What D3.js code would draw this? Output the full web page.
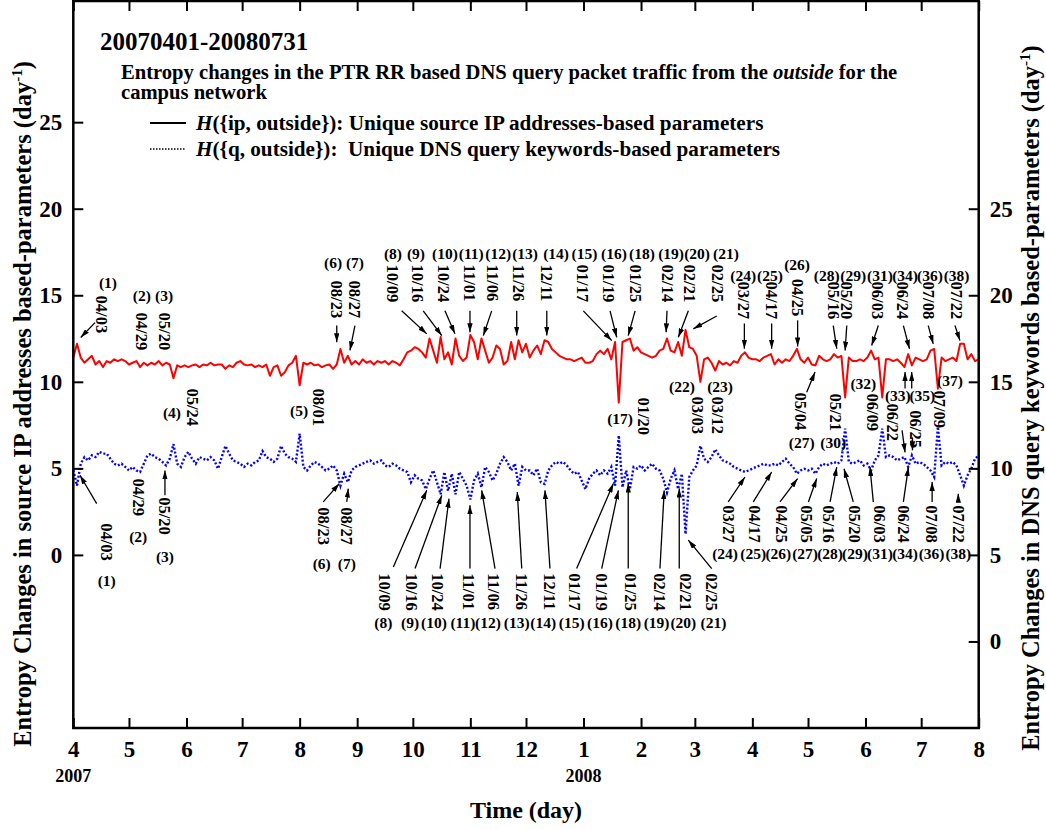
<!DOCTYPE html>
<html lang="en">
<head>
<meta charset="UTF-8">
<title>PTR RR entropy changes</title>
<script src="https://cdn.jsdelivr.net/npm/d3@7"></script>
<style>
body { margin: 0; background: #fff; }
text { font-family: "Liberation Serif", "Times New Roman", serif; font-weight: bold; fill: #000; }
</style>
</head>
<body>
<script>

var w = 1046, h = 830;
var plotLeft = 73.3, plotRight = 978.7, plotTop = 1, plotBottom = 728;

// one value every 2 days, starting 2007-04-01
var startDate = Date.UTC(2007, 3, 1);
var stepDays = 2;

// H({ip, outside}), left axis
var ipValues = [
 11.4, 12.2, 11.4, 11.1, 11.3, 11.5, 11.0, 11.2, 10.85, 11.2,
 11.1, 11.3, 11.2, 11.3, 11.2, 11.0, 11.1, 11.2, 10.85, 11.1,
 10.95, 11.1, 11.0, 11.2, 10.95, 11.1, 11.0, 10.2, 10.95, 10.85,
 10.95, 10.85, 10.95, 11.0, 10.85, 11.0, 10.95, 11.1, 10.95, 11.0,
 11.0, 10.75, 10.95, 10.85, 11.1, 11.2, 11.0, 10.95, 11.0, 10.85,
 10.95, 10.85, 11.0, 10.35, 10.85, 10.95, 10.35, 10.55, 10.95, 11.1,
 11.5, 9.8, 11.1, 11.0, 11.1, 10.95, 11.0, 10.85, 10.95, 11.0,
 10.75, 11.0, 11.9, 11.1, 11.5, 11.0, 11.2, 11.0, 11.3, 11.1,
 11.2, 11.0, 11.2, 11.1, 11.2, 11.0, 11.2, 11.1, 10.95, 11.3,
 11.7, 11.8, 12.0, 11.9, 11.7, 11.4, 12.5, 11.8, 11.1, 12.6,
 11.3, 11.7, 11.0, 12.5, 11.5, 11.2, 11.4, 12.7, 12.3, 11.3,
 12.5, 11.8, 11.1, 11.4, 12.1, 11.9, 11.0, 11.2, 12.3, 11.3,
 12.4, 11.7, 12.2, 11.4, 11.8, 12.1, 11.6, 12.4, 12.3, 11.9,
 11.7, 11.5, 11.4, 11.3, 11.3, 11.2, 11.3, 11.4, 11.1, 11.1,
 11.2, 11.6, 11.8, 11.6, 11.9, 11.3, 12.3, 8.8, 12.3, 12.4,
 12.5, 11.8, 12.0, 11.7, 11.6, 11.5, 11.4, 11.5, 11.8, 11.9,
 12.5, 11.8, 11.7, 12.3, 11.5, 13.0, 12.0, 11.9, 11.5, 10.0,
 11.3, 11.4, 11.1, 10.65, 11.2, 11.0, 11.1, 10.95, 11.2, 11.1,
 11.5, 11.7, 11.4, 11.3, 11.3, 11.2, 11.4, 11.5, 11.6, 11.0,
 11.3, 11.1, 11.3, 11.2, 11.5, 11.9, 11.3, 11.1, 11.4, 11.0,
 10.95, 11.5, 11.3, 11.2, 11.3, 11.6, 11.4, 11.5, 9.1, 11.4,
 11.2, 11.2, 11.3, 11.2, 11.4, 11.8, 11.3, 11.4, 9.1, 11.3,
 11.3, 11.2, 11.3, 11.1, 10.85, 11.6, 10.95, 11.4, 11.3, 11.2,
 11.3, 11.8, 11.9, 9.6, 11.4, 11.2, 11.3, 11.4, 11.2, 12.2,
 12.2, 11.3, 11.6, 11.2, 11.3
];

// H({q, outside}), right axis
var qValues = [
 9.9, 9.0, 10.27, 10.65, 10.46, 10.75, 10.65, 10.95, 10.85, 10.85,
 10.56, 10.27, 10.17, 10.27, 10.08, 9.88, 10.08, 9.88, 9.79, 10.27,
 10.75, 10.85, 10.65, 10.56, 10.37, 10.17, 10.56, 11.4, 10.27, 10.08,
 10.65, 10.95, 10.56, 10.27, 10.65, 10.56, 10.46, 10.65, 10.46, 9.98,
 10.65, 11.3, 10.85, 10.46, 10.37, 10.27, 10.08, 10.27, 10.17, 10.37,
 10.46, 11.0, 10.65, 10.56, 10.37, 10.56, 11.3, 10.85, 10.65, 10.56,
 10.37, 12.0, 10.08, 9.88, 10.17, 10.37, 10.27, 10.08, 9.88, 9.98,
 10.17, 9.88, 9.0, 9.69, 9.2, 9.88, 10.08, 10.17, 10.27, 10.37,
 10.46, 10.27, 10.37, 10.46, 10.17, 10.08, 10.27, 10.17, 9.98, 9.88,
 9.79, 9.2, 9.6, 9.4, 9.3, 8.8, 9.4, 9.88, 9.2, 8.5,
 9.79, 8.7, 9.69, 8.5, 9.79, 9.4, 9.0, 8.2, 9.3, 9.69,
 8.9, 10.08, 9.79, 9.3, 9.69, 10.27, 10.65, 10.37, 9.88, 10.27,
 9.0, 10.08, 9.88, 9.88, 9.6, 9.98, 9.2, 9.1, 9.88, 10.17,
 10.37, 10.27, 10.37, 10.17, 9.88, 9.69, 9.79, 9.3, 8.8, 9.4,
 9.69, 9.88, 9.6, 9.88, 9.69, 10.08, 9.0, 11.9, 8.9, 9.88,
 8.8, 10.08, 9.98, 10.17, 9.88, 10.08, 10.27, 9.98, 9.88, 9.4,
 8.6, 9.4, 9.88, 8.8, 9.69, 6.2, 9.5, 9.88, 10.17, 11.3,
 10.56, 10.37, 10.65, 11.1, 10.75, 10.46, 10.37, 10.27, 10.08, 9.98,
 9.88, 9.79, 9.88, 9.98, 10.08, 10.17, 10.27, 10.17, 10.17, 10.27,
 10.17, 10.37, 10.56, 10.27, 10.08, 9.69, 9.88, 9.98, 9.88, 9.98,
 9.69, 10.08, 10.27, 10.17, 10.27, 10.37, 10.27, 10.46, 12.3, 10.37,
 10.27, 10.37, 10.46, 10.17, 10.27, 9.88, 10.46, 10.75, 12.3, 10.65,
 10.75, 10.65, 10.46, 10.56, 10.65, 10.08, 10.75, 10.27, 10.37, 10.27,
 10.08, 9.88, 9.5, 12.4, 10.17, 10.37, 10.27, 10.37, 10.17, 9.6,
 9.0, 9.6, 9.98, 10.56, 10.75
];

var leftTicks = [0, 5, 10, 15, 20, 25];
var rightTicks = [0, 5, 10, 15, 20, 25];
var yearLabels = [["2007", Date.UTC(2007, 3, 1)], ["2008", Date.UTC(2008, 0, 1)]];

// annotations: n = number, t = date text, nd/nv = number spot, td/tv = top of date text,
// ar = arrows [fromDay, fromVal, toDay, toVal]; days from 2007-04-01, values on the left axis
var ipNotes = [
 {n:"(1)", t:"04/03", nd:18.7, nv:15.75, td:15.3, tv:14.98, ar:[[11.7,13.42,4.0,12.56]]},
 {n:"(2)", t:"04/29", nd:36.9, nv:14.98, td:36.9, tv:14.0, ar:[]},
 {n:"(3)", t:"05/20", nd:48.9, nv:14.98, td:48.9, tv:14.0, ar:[]},
 {n:"(4)", t:"05/24", nd:53.2, nv:8.23, td:64.5, tv:9.62, ar:[]},
 {n:"(5)", t:"08/01", nd:121.7, nv:8.35, td:131.9, tv:9.62, ar:[]},
 {n:"(6)", t:"08/23", nd:140, nv:16.88, td:142.0, tv:15.85, ar:[[142.0,13.25,142.0,12.29]]},
 {n:"(7)", t:"08/27", nd:151.8, nv:16.88, td:151.8, tv:15.85, ar:[[151.8,13.25,149.1,11.81]]},
 {n:"(8)", t:"10/09", nd:172.3, nv:17.4, td:171.8, tv:16.77, ar:[[177.0,14.1,190.5,12.77]]},
 {n:"(9)", t:"10/16", nd:184.7, nv:17.4, td:185.3, tv:16.77, ar:[[188.6,14.1,198.6,12.67]]},
 {n:"(10)", t:"10/24", nd:200.3, nv:17.4, td:199.3, tv:16.77, ar:[[200.3,14.1,205.7,12.77]]},
 {n:"(11)", t:"11/01", nd:214.5, nv:17.4, td:213.3, tv:16.77, ar:[[213.8,14.1,213.8,12.86]]},
 {n:"(12)", t:"11/06", nd:229.0, nv:17.4, td:225.7, tv:16.77, ar:[[225.5,14.1,221.0,12.67]]},
 {n:"(13)", t:"11/26", nd:243.5, nv:17.4, td:239.7, tv:16.77, ar:[[239.0,14.1,239.0,12.67]]},
 {n:"(14)", t:"12/11", nd:260.2, nv:17.4, td:255.3, tv:16.77, ar:[[255.2,14.1,255.2,12.67]]},
 {n:"(15)", t:"01/17", nd:275.5, nv:17.4, td:274.7, tv:16.77, ar:[[274.9,14.1,290.2,12.38]]},
 {n:"(16)", t:"01/19", nd:291.4, nv:17.4, td:288.2, tv:16.77, ar:[[289.3,14.1,292.9,12.57]]},
 {n:"(18)", t:"01/25", nd:306.5, nv:17.4, td:302.8, tv:16.77, ar:[[302.8,14.1,299.1,12.67]]},
 {n:"(19)", t:"02/14", nd:322.2, nv:17.4, td:320.0, tv:16.77, ar:[[320.0,14.1,319.5,12.86]]},
 {n:"(20)", t:"02/21", nd:336.2, nv:17.4, td:331.9, tv:16.77, ar:[[331.5,14.1,326.1,12.57]]},
 {n:"(21)", t:"02/25", nd:351.8, nv:17.4, td:347.0, tv:16.77, ar:[[346.8,13.8,334.2,13.06]]},
 {n:"(17)", t:"01/20", nd:294.7, nv:7.88, td:307.2, tv:9.10, ar:[]},
 {n:"(22)", t:"03/03", nd:328.1, nv:9.73, td:336.4, tv:9.15, ar:[]},
 {n:"(23)", t:"03/12", nd:348.6, nv:9.73, td:347.2, tv:9.15, ar:[]},
 {n:"(24)", t:"03/27", nd:361.1, nv:16.13, td:361.1, tv:15.79, ar:[[361.7,13.37,361.7,11.91]]},
 {n:"(25)", t:"04/17", nd:375.5, nv:16.13, td:376.4, tv:15.79, ar:[[376.4,13.37,376.4,11.91]]},
 {n:"(26)", t:"04/25", nd:390.1, nv:16.77, td:390.1, tv:15.96, ar:[[390.4,13.55,390.4,12.04]]},
 {n:"(28)", t:"05/16", nd:406.1, nv:16.13, td:409.5, tv:15.79, ar:[[409.6,13.25,411.5,11.91]]},
 {n:"(29)", t:"05/20", nd:420.4, nv:16.13, td:416.9, tv:15.79, ar:[[416.9,13.25,416.0,11.81]]},
 {n:"(31)", t:"06/03", nd:434.8, nv:16.13, td:433.2, tv:15.79, ar:[[433.9,13.25,430.3,12.10]]},
 {n:"(34)", t:"06/24", nd:448.3, nv:16.13, td:446.7, tv:15.79, ar:[[447.4,13.25,450.7,11.91]]},
 {n:"(36)", t:"07/08", nd:461.7, nv:16.13, td:460.8, tv:15.79, ar:[[460.8,13.25,463.5,12.19]]},
 {n:"(38)", t:"07/22", nd:476.1, nv:16.13, td:476.1, tv:15.79, ar:[[475.2,13.25,477.9,12.38]]},
 {n:"(27)", t:"05/04", nd:392.6, nv:6.52, td:392.2, tv:9.38, ar:[[395.3,9.40,399.8,10.56]]},
 {n:"(30)", t:"05/21", nd:409.6, nv:6.52, td:410.6, tv:9.33, ar:[]},
 {n:"(32)", t:"06/09", nd:425.8, nv:9.89, td:430.5, tv:9.33, ar:[]},
 {n:"(33)", t:"06/22", nd:444.4, nv:9.21, td:441.8, tv:8.75, ar:[[448.3,9.62,448.3,10.56],[446.7,7.19,448.3,5.92]]},
 {n:"(35)", t:"06/25", nd:457.6, nv:9.21, td:453.7, tv:8.35, ar:[[451.9,9.62,451.9,10.56],[452.3,6.79,452.3,6.04]]},
 {n:"(37)", t:"07/09", nd:472.5, nv:10.08, td:467.1, tv:9.50, ar:[]}
];

var qNotes = [
 {n:"(1)", t:"04/03", nd:18.0, nv:-1.46, td:18.0, tv:1.83, ar:[[12.6,2.96,3.6,4.60]]},
 {n:"(2)", t:"04/29", nd:35.0, nv:1.04, td:35.0, tv:4.42, ar:[]},
 {n:"(3)", t:"05/20", nd:49.4, nv:-0.12, td:49.4, tv:3.33, ar:[[49.4,3.44,49.4,4.88]]},
 {n:"(6)", t:"08/23", nd:133.9, nv:-0.50, td:134.7, tv:2.75, ar:[[134.7,3.06,143.4,4.12]]},
 {n:"(7)", t:"08/27", nd:147.4, nv:-0.50, td:147.4, tv:2.75, ar:[[147.4,3.06,148.2,3.83]]},
 {n:"(8)", t:"10/09", nd:167.1, nv:-3.88, td:168.0, tv:-1.06, ar:[[172.5,-0.70,190.5,3.73]]},
 {n:"(9)", t:"10/16", nd:181.5, nv:-3.88, td:182.4, tv:-1.06, ar:[[184.2,-0.79,198.6,3.44]]},
 {n:"(10)", t:"10/24", nd:194.4, nv:-3.88, td:196.3, tv:-1.06, ar:[[197.7,-0.79,202.5,3.25]]},
 {n:"(11)", t:"11/01", nd:210.0, nv:-3.88, td:212.9, tv:-1.06, ar:[[213.8,-0.79,213.8,2.87]]},
 {n:"(12)", t:"11/06", nd:223.5, nv:-3.88, td:226.4, tv:-1.06, ar:[[227.3,-0.79,220.1,3.73]]},
 {n:"(13)", t:"11/26", nd:239.0, nv:-3.88, td:241.7, tv:-1.06, ar:[[241.7,-0.79,239.3,3.63]]},
 {n:"(14)", t:"12/11", nd:253.3, nv:-3.88, td:256.9, tv:-1.06, ar:[[256.9,-0.79,254.2,3.73]]},
 {n:"(15)", t:"01/17", nd:268.6, nv:-3.88, td:270.4, tv:-1.06, ar:[[271.3,-0.79,291.1,4.12]]},
 {n:"(16)", t:"01/19", nd:283.9, nv:-3.88, td:284.8, tv:-1.06, ar:[[284.8,-0.79,293.8,3.73]]},
 {n:"(18)", t:"01/25", nd:299.1, nv:-3.88, td:300.1, tv:-1.06, ar:[[299.1,-0.79,299.1,4.12]]},
 {n:"(19)", t:"02/14", nd:314.4, nv:-3.88, td:316.2, tv:-1.06, ar:[[316.2,-0.79,318.5,3.73]]},
 {n:"(20)", t:"02/21", nd:328.8, nv:-3.88, td:329.7, tv:-1.06, ar:[[326.6,-0.79,326.6,3.83]]},
 {n:"(21)", t:"02/25", nd:345.0, nv:-3.88, td:344.1, tv:-1.06, ar:[[344.1,-0.79,331.5,0.85]]},
 {n:"(24)", t:"03/27", nd:351.3, nv:0.08, td:353.0, tv:2.87, ar:[[353.0,3.06,362.0,4.50]]},
 {n:"(25)", t:"04/17", nd:366.5, nv:0.08, td:367.4, tv:2.87, ar:[[366.5,3.06,376.4,4.79]]},
 {n:"(26)", t:"04/25", nd:380.0, nv:0.08, td:381.8, tv:2.87, ar:[[380.9,3.06,390.4,4.41]]},
 {n:"(27)", t:"05/05", nd:394.4, nv:0.08, td:395.3, tv:2.87, ar:[[396.2,3.06,400.7,4.41]]},
 {n:"(28)", t:"05/16", nd:407.9, nv:0.08, td:406.9, tv:2.87, ar:[[407.9,3.06,411.5,5.07]]},
 {n:"(29)", t:"05/20", nd:421.3, nv:0.08, td:421.3, tv:2.87, ar:[[420.4,3.06,415.4,4.98]]},
 {n:"(31)", t:"06/03", nd:434.8, nv:0.08, td:434.8, tv:2.87, ar:[[431.2,3.06,429.4,5.07]]},
 {n:"(34)", t:"06/24", nd:448.3, nv:0.08, td:447.4, tv:2.87, ar:[[447.4,3.06,450.1,5.07]]},
 {n:"(36)", t:"07/08", nd:462.6, nv:0.08, td:462.6, tv:2.87, ar:[[462.9,3.06,462.9,4.21]]},
 {n:"(38)", t:"07/22", nd:477.0, nv:0.08, td:477.0, tv:2.87, ar:[[477.0,3.06,477.0,3.54]]}
];

function dayDate(d) { return new Date(startDate + d * 864e5); }

var x = d3.scaleUtc()
    .domain([new Date(Date.UTC(2007, 3, 1)), new Date(Date.UTC(2008, 7, 1))])
    .range([plotLeft, plotRight]);
var yL = d3.scaleLinear().domain([-10, 32]).range([plotBottom, plotTop]);
var yR = d3.scaleLinear().domain([-5, 37]).range([plotBottom, plotTop]);

var svg = d3.select("body").append("svg")
    .attr("width", w)
    .attr("height", h);

svg.append("defs").append("marker")
    .attr("id", "ah")
    .attr("viewBox", "0 0 10 6")
    .attr("refX", 10).attr("refY", 3)
    .attr("markerWidth", 9).attr("markerHeight", 5.4)
    .attr("markerUnits", "userSpaceOnUse")
    .attr("orient", "auto")
    .append("path").attr("d", "M0,0 L10,3 L0,6 Z").attr("fill", "#000");

// series
var ipLine = d3.line()
    .x(function(d, i) { return x(dayDate(i * stepDays)); })
    .y(function(d) { return yL(d); });
var qLine = d3.line()
    .x(function(d, i) { return x(dayDate(i * stepDays)); })
    .y(function(d) { return yR(d); });

svg.append("path").datum(ipValues)
    .attr("d", ipLine)
    .attr("fill", "none").attr("stroke", "#ff0000").attr("stroke-width", 2)
    .attr("stroke-linejoin", "round");
svg.append("path").datum(qValues)
    .attr("d", qLine)
    .attr("fill", "none").attr("stroke", "#0000ff").attr("stroke-width", 2.4)
    .attr("stroke-dasharray", "2,2");

// axes
function styleAxis(g) {
    g.select(".domain").remove();
    g.selectAll(".tick line").attr("stroke", "#000").attr("stroke-width", 2);
    g.selectAll(".tick text")
        .attr("font-family", "Liberation Serif, Times New Roman, serif")
        .attr("font-weight", "bold").attr("font-size", 23).attr("fill", "#000");
}

svg.append("g").attr("transform", "translate(0," + plotBottom + ")")
    .call(d3.axisBottom(x).ticks(d3.utcMonth.every(1)).tickFormat(d3.utcFormat("%-m"))
        .tickSizeInner(-10).tickSizeOuter(0).tickPadding(13))
    .call(styleAxis);
svg.append("g").attr("transform", "translate(0," + plotTop + ")")
    .call(d3.axisTop(x).ticks(d3.utcMonth.every(1)).tickFormat("")
        .tickSizeInner(-10).tickSizeOuter(0))
    .call(styleAxis);
svg.append("g").attr("transform", "translate(" + plotLeft + ",0)")
    .call(d3.axisLeft(yL).tickValues(leftTicks).tickSizeInner(-10).tickSizeOuter(0).tickPadding(11))
    .call(styleAxis);
svg.append("g").attr("transform", "translate(" + plotRight + ",0)")
    .call(d3.axisRight(yR).tickValues(rightTicks).tickSizeInner(-10).tickSizeOuter(0).tickPadding(11))
    .call(styleAxis);

svg.append("rect")
    .attr("x", plotLeft).attr("y", plotTop)
    .attr("width", plotRight - plotLeft).attr("height", plotBottom - plotTop)
    .attr("fill", "none").attr("stroke", "#000").attr("stroke-width", 2.5);

svg.selectAll(".year").data(yearLabels).enter().append("text")
    .attr("x", function(d) { return x(new Date(d[1])); })
    .attr("y", 782)
    .attr("text-anchor", "middle").attr("font-size", 18)
    .text(function(d) { return d[0]; });

svg.append("text").attr("x", 526).attr("y", 818)
    .attr("text-anchor", "middle").attr("font-size", 24)
    .text("Time (day)");

function axisTitle(tx, ty, label) {
    var t = svg.append("text")
        .attr("transform", "translate(" + tx + "," + ty + ") rotate(-90)")
        .attr("text-anchor", "middle").attr("font-size", 24.5);
    t.append("tspan").text(label + " (day");
    t.append("tspan").attr("font-size", 15).attr("dy", -9).text("-1");
    t.append("tspan").attr("dy", 9).text(")");
}
axisTitle(31, 404, "Entropy Changes in source IP addresses based-parameters");
axisTitle(1039, 398, "Entropy Changes in DNS query keywords based-parameters");

// title and legend
svg.append("text").attr("x", 100).attr("y", 50).attr("font-size", 25).text("20070401-20080731");
var sub = svg.append("text").attr("x", 121).attr("y", 79).attr("font-size", 20.6);
sub.append("tspan").text("Entropy changes in the PTR RR based DNS query packet traffic from the ");
sub.append("tspan").attr("font-style", "italic").text("outside");
sub.append("tspan").text(" for the");
svg.append("text").attr("x", 121).attr("y", 99).attr("font-size", 20.6).text("campus network");

var legendRows = [
    {key: "({ip, outside}): ", desc: "Unique source IP addresses-based parameters", dash: null},
    {key: "({q, outside}):  ", desc: "Unique DNS query keywords-based parameters", dash: "1.5,1.5"}
];
legendRows.forEach(function(r, i) {
    var ly = 123 + i * 26;
    svg.append("line").attr("x1", 150).attr("x2", 186).attr("y1", ly).attr("y2", ly)
        .attr("stroke", "#000").attr("stroke-width", r.dash ? 1.5 : 2)
        .attr("stroke-dasharray", r.dash);
    var t = svg.append("text").attr("x", 196).attr("y", ly + 7).attr("font-size", 21.2)
        .style("white-space", "pre");
    t.append("tspan").attr("font-style", "italic").text("H");
    t.append("tspan").text(r.key + r.desc);
});

// annotations
function drawNotes(notes) {
    var g = svg.append("g");
    g.selectAll(".num").data(notes).enter().append("text")
        .attr("x", function(d) { return x(dayDate(d.nd)); })
        .attr("y", function(d) { return yL(d.nv); })
        .attr("text-anchor", "middle").attr("dominant-baseline", "central")
        .attr("font-size", 15.5)
        .text(function(d) { return d.n; });
    g.selectAll(".date").data(notes).enter().append("text")
        .attr("transform", function(d) {
            return "translate(" + x(dayDate(d.td)) + "," + yL(d.tv) + ") rotate(90)";
        })
        .attr("dominant-baseline", "central")
        .attr("font-size", 16.5)
        .text(function(d) { return d.t; });
    var arrows = [];
    notes.forEach(function(d) { d.ar.forEach(function(a) { arrows.push(a); }); });
    g.selectAll(".arrow").data(arrows).enter().append("line")
        .attr("x1", function(a) { return x(dayDate(a[0])); })
        .attr("y1", function(a) { return yL(a[1]); })
        .attr("x2", function(a) { return x(dayDate(a[2])); })
        .attr("y2", function(a) { return yL(a[3]); })
        .attr("stroke", "#000").attr("stroke-width", 1.3)
        .attr("marker-end", "url(#ah)");
}
drawNotes(ipNotes);
drawNotes(qNotes);

</script>
</body>
</html>
